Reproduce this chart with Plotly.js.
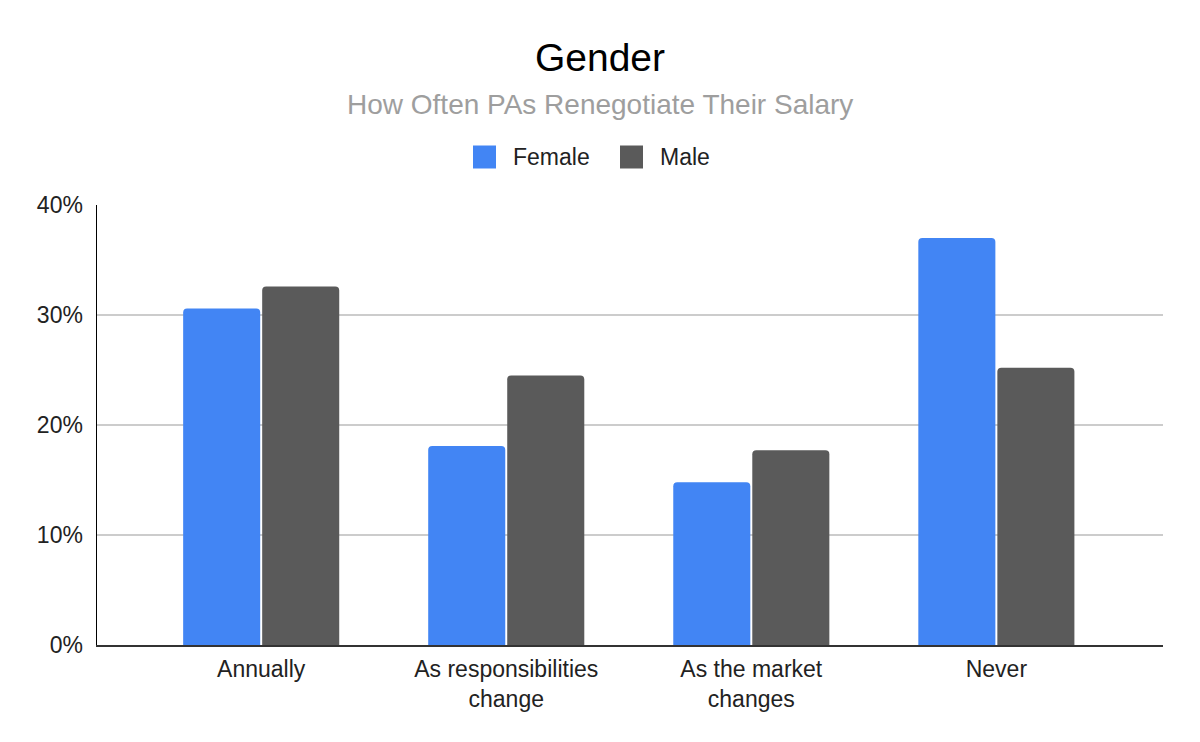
<!DOCTYPE html>
<html>
<head>
<meta charset="utf-8">
<script src="https://cdn.plot.ly/plotly-3.0.1.min.js"></script>
<style>html,body{margin:0;padding:0;background:#fff;}#chart{width:1200px;height:742px;}</style>
</head>
<body>
<div id="chart"></div>
<script>
var categories = ["Annually", "As responsibilities<br>change", "As the market<br>changes", "Never"];
var femaleValues = [0.306, 0.181, 0.148, 0.370];
var maleValues = [0.326, 0.245, 0.177, 0.252];
var seriesNames = ["Female", "Male"];
var seriesColors = ["#4285F4", "#5A5A5A"];
var yTickValues = [0, 0.1, 0.2, 0.3, 0.4];
var yTickLabels = ["0%", "10%", "20%", "30%", "40%"];

var FONT = "Liberation Sans, Arial, sans-serif";

var traces = [
  {type: "bar", name: seriesNames[0], x: categories, y: femaleValues,
   marker: {color: seriesColors[0], cornerradius: 4}, hoverinfo: "y", showlegend: false},
  {type: "bar", name: seriesNames[1], x: categories, y: maleValues,
   marker: {color: seriesColors[1], cornerradius: 4}, hoverinfo: "y", showlegend: false}
];

// pixel -> paper helpers for the decorative legend/subtitle
var L = 97, R = 37, T = 205, B = 97, W = 1200, H = 742;
var PW = W - L - R, PH = H - T - B;
function px(x) { return (x - L) / PW; }
function py(y) { return 1 + (T - y) / PH; }

var legendItems = [
  {name: seriesNames[0], color: seriesColors[0], sq: 473, tx: 511},
  {name: seriesNames[1], color: seriesColors[1], sq: 620, tx: 658}
];
var legendShapes = legendItems.map(function (it) {
  return {type: "rect", xref: "paper", yref: "paper",
          x0: px(it.sq), x1: px(it.sq + 23), y0: py(168.5), y1: py(145.5),
          fillcolor: it.color, line: {width: 0}, layer: "above"};
});
var legendLabels = legendItems.map(function (it) {
  return {text: it.name, xref: "paper", yref: "paper", x: px(it.tx), y: py(157),
          xanchor: "left", yanchor: "middle", showarrow: false,
          font: {family: FONT, size: 23, color: "#222222"}};
});

var layout = {
  width: W, height: H,
  paper_bgcolor: "#ffffff", plot_bgcolor: "#ffffff",
  font: {family: FONT, size: 23, color: "#222222"},
  margin: {l: L, r: R, t: T, b: B, pad: 0},
  barmode: "group", bargap: 0.355, bargroupgap: 0.025,
  title: {text: "Gender", font: {family: FONT, size: 39, color: "#000000"},
          x: 0.5, xanchor: "center", xref: "container",
          y: 1 - 57/742, yanchor: "middle", yref: "container"},
  shapes: legendShapes,
  annotations: [{
    text: "How Often PAs Renegotiate Their Salary", xref: "paper", yref: "paper",
    x: px(600), y: py(105), xanchor: "center", yanchor: "middle",
    showarrow: false, font: {family: FONT, size: 28, color: "#9e9e9e"}
  }].concat(legendLabels),
  showlegend: false,
  xaxis: {type: "category", range: [-0.67, 3.68], showgrid: false, zeroline: false,
          showline: true, linecolor: "#333333", linewidth: 1.5, ticks: "",
          tickfont: {family: FONT, size: 23, color: "#222222"}, ticklabelstandoff: 3, fixedrange: true},
  yaxis: {range: [0, 0.4], tickvals: yTickValues, ticktext: yTickLabels,
          showgrid: true, gridcolor: "#cccccc", gridwidth: 1.5, zeroline: false,
          showline: true, linecolor: "#000000", linewidth: 1.5, ticks: "",
          tickfont: {family: FONT, size: 23, color: "#222222"}, ticklabelstandoff: 8, fixedrange: true}
};

Plotly.newPlot("chart", traces, layout, {displayModeBar: false, staticPlot: true});
</script>
</body>
</html>
